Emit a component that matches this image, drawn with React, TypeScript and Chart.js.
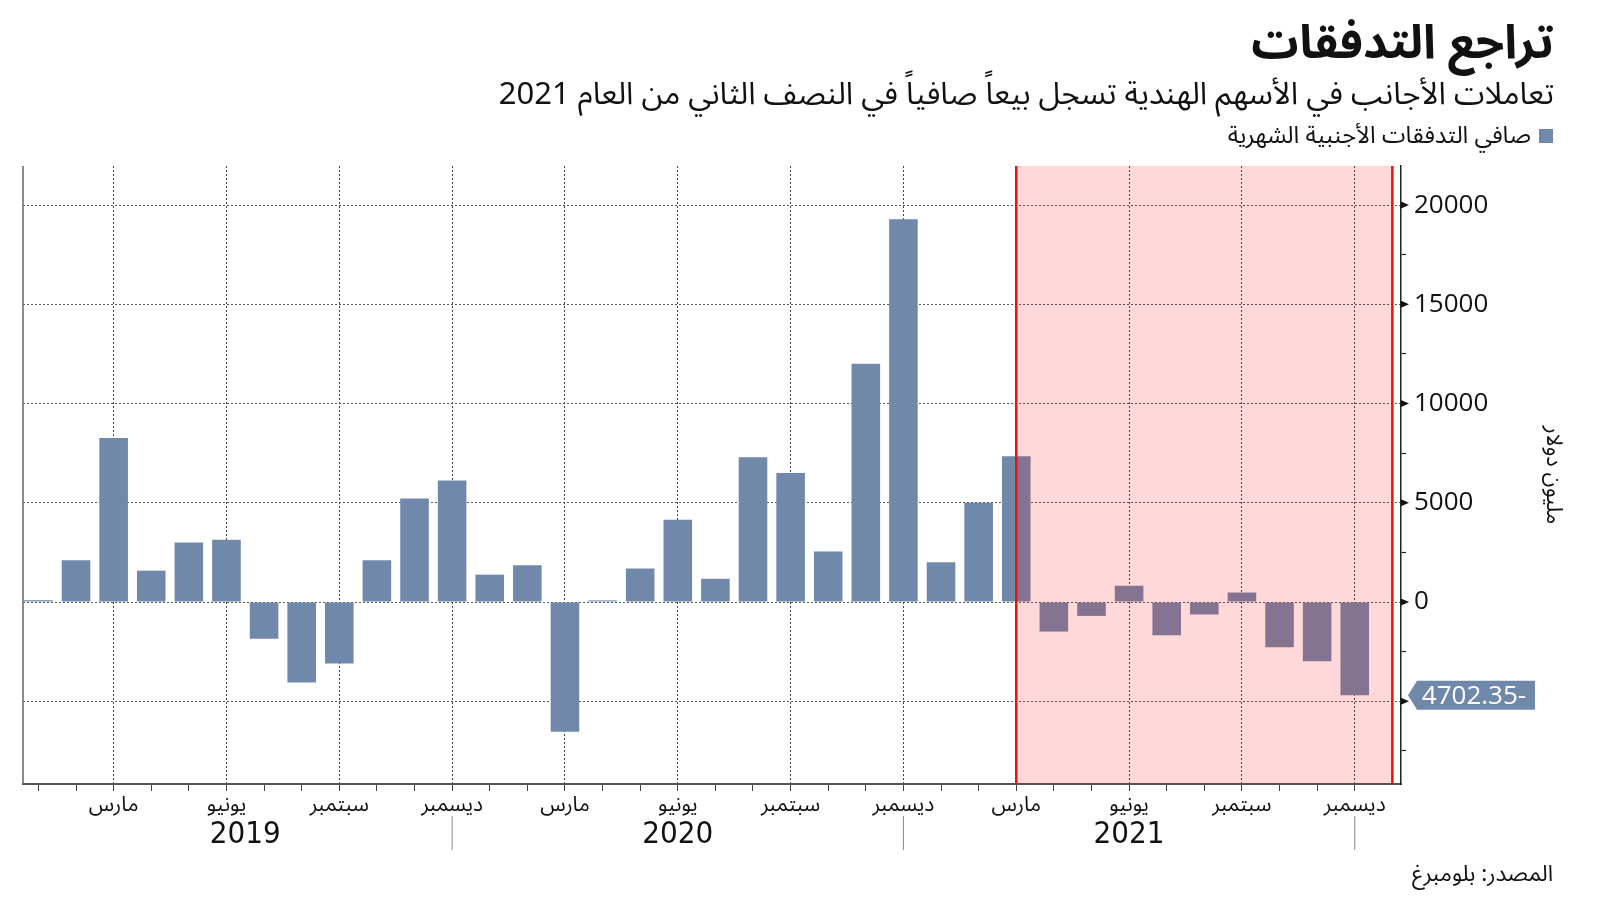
import React, { useEffect, useRef } from 'react';
import { Chart, registerables } from 'chart.js';

Chart.register(...registerables);

// ---------- data ----------
const months = [
  '2019-01', '2019-02', '2019-03', '2019-04', '2019-05', '2019-06',
  '2019-07', '2019-08', '2019-09', '2019-10', '2019-11', '2019-12',
  '2020-01', '2020-02', '2020-03', '2020-04', '2020-05', '2020-06',
  '2020-07', '2020-08', '2020-09', '2020-10', '2020-11', '2020-12',
  '2021-01', '2021-02', '2021-03', '2021-04', '2021-05', '2021-06',
  '2021-07', '2021-08', '2021-09', '2021-10', '2021-11', '2021-12',
];

const netFlows = [
  90, 2100, 8270, 1580, 3000, 3140, -1850, -4060, -3100, 2100, 5220, 6120,
  1380, 1850, -6540, 80, 1690, 4150, 1170, 7290, 6500, 2540, 12000, 19290,
  2000, 5000, 7350, -1490, -700, 820, -1680, -630, 480, -2280, -2980, -4702.35,
];

const quarterMonthNames: Record<string, string> = {
  '03': 'مارس',
  '06': 'يونيو',
  '09': 'سبتمبر',
  '12': 'ديسمبر',
};

const yearLabels = ['2019', '2020', '2021'];

const highlightFrom = '2021-03';
const highlightTo = '2022-01';

const titleText = 'تراجع التدفقات';
const subtitleText = 'تعاملات الأجانب في الأسهم الهندية تسجل بيعاً صافياً في النصف الثاني من العام 2021';
const seriesLabel = 'صافي التدفقات الأجنبية الشهرية';
const yAxisTitle = 'مليون دولار';
const sourceText = 'المصدر: بلومبرغ';

// ---------- styling ----------
const ARABIC = "'Noto Sans Arabic', 'Noto Kufi Arabic', 'DejaVu Sans', sans-serif";
const NUM = "'Open Sans', 'DejaVu Sans', sans-serif";
const NARROW = "'Liberation Sans Narrow', 'DejaVu Sans Condensed', 'Open Sans', sans-serif";
const BAR = '#7089ab';
const Y_MIN = -9170;
const Y_MAX = 21970;
const Y_STEP = 2500;
const Y_MAJOR = 5000;

function monthPos(s: string): number {
  const [y0, m0] = months[0].split('-').map(Number);
  const [y, m] = s.split('-').map(Number);
  return (y - y0) * 12 + (m - m0);
}

const decorPlugin = {
  id: 'decor',
  afterDatasetsDraw(chart: any) {
    const { ctx, chartArea, scales } = chart;
    const x = scales.x;
    const xa = x.getPixelForValue(monthPos(highlightFrom));
    const xb = x.getPixelForValue(monthPos(highlightTo));
    ctx.save();
    ctx.fillStyle = 'rgba(255, 0, 0, 0.15)';
    ctx.fillRect(xa, chartArea.top, xb - xa, chartArea.bottom - chartArea.top);
    ctx.strokeStyle = '#e3121b';
    ctx.lineWidth = 2.5;
    [xa, xb].forEach((px) => {
      ctx.beginPath();
      ctx.moveTo(px, chartArea.top);
      ctx.lineTo(px, chartArea.bottom);
      ctx.stroke();
    });
    ctx.restore();
  },
  afterDraw(chart: any) {
    const { ctx, chartArea, scales } = chart;
    const x = scales.x;
    const y = scales.y;
    ctx.save();
    // left frame line
    ctx.strokeStyle = '#666';
    ctx.lineWidth = 1.5;
    ctx.beginPath();
    ctx.moveTo(chartArea.left, chartArea.top);
    ctx.lineTo(chartArea.left, chartArea.bottom);
    ctx.stroke();

    // triangle markers on major y ticks
    ctx.fillStyle = '#111';
    y.ticks.forEach((t: any) => {
      if (t.value % Y_MAJOR !== 0) return;
      const py = y.getPixelForValue(t.value);
      ctx.beginPath();
      ctx.moveTo(y.left, py - 3.5);
      ctx.lineTo(y.left + 8, py);
      ctx.lineTo(y.left, py + 3.5);
      ctx.closePath();
      ctx.fill();
    });

    // last value annotation
    const last = netFlows[netFlows.length - 1];
    const py = y.getPixelForValue(last);
    const tip = y.left + 7;
    const bx0 = tip + 9;
    const bx1 = bx0 + 118;
    const h = 29;
    ctx.fillStyle = BAR;
    ctx.beginPath();
    ctx.moveTo(tip, py);
    ctx.lineTo(bx0, py - h / 2);
    ctx.lineTo(bx1, py - h / 2);
    ctx.lineTo(bx1, py + h / 2);
    ctx.lineTo(bx0, py + h / 2);
    ctx.closePath();
    ctx.fill();
    ctx.fillStyle = '#fff';
    ctx.font = `26px ${NUM}`;
    ctx.textAlign = 'center';
    ctx.textBaseline = 'middle';
    (ctx as any).direction = 'rtl';
    ctx.fillText(String(last), (bx0 + bx1) / 2 - 2, py + 1);
    (ctx as any).direction = 'ltr';

    // year separators and labels
    const decIdx = yearLabels.map((yr) => monthPos(`${yr}-12`));
    ctx.strokeStyle = '#888';
    ctx.lineWidth = 1;
    const sepTop = chartArea.bottom + 32;
    const sepBot = chartArea.bottom + 66;
    decIdx.forEach((d) => {
      const px = x.getPixelForValue(d);
      ctx.beginPath();
      ctx.moveTo(px, sepTop);
      ctx.lineTo(px, sepBot);
      ctx.stroke();
    });
    ctx.fillStyle = '#111';
    ctx.font = `31px ${NARROW}`;
    ctx.textAlign = 'center';
    ctx.textBaseline = 'middle';
    yearLabels.forEach((yr, i) => {
      const start = i === 0 ? monthPos(months[0]) : decIdx[i - 1];
      const center = (start + decIdx[i]) / 2;
      ctx.fillText(yr, x.getPixelForValue(center), chartArea.bottom + 51);
    });
    ctx.restore();
  },
};

function isQuarterTick(v: number): boolean {
  const i = Math.round(v);
  if (i < 0 || i >= months.length || Math.abs(v - i) > 1e-6) return false;
  return Boolean(quarterMonthNames[months[i].slice(5)]);
}

export default function App() {
  const canvasRef = useRef<HTMLCanvasElement | null>(null);

  useEffect(() => {
    document.body.style.margin = '0';
    const canvas = canvasRef.current;
    if (!canvas) return;
    const chart = new Chart(canvas, {
      type: 'bar',
      data: {
        datasets: [
          {
            label: seriesLabel,
            data: netFlows.map((v, i) => ({ x: monthPos(months[i]), y: v })),
            backgroundColor: BAR,
            borderWidth: 0,
            categoryPercentage: 1,
            barPercentage: 0.76,
          },
        ],
      },
      options: {
        animation: false,
        responsive: false,
        maintainAspectRatio: false,
        layout: { padding: { left: 23, top: 166, right: 36, bottom: 57 } },
        plugins: {
          legend: { display: false },
          title: { display: false },
          tooltip: { enabled: false },
        },
        scales: {
          x: {
            type: 'linear',
            min: -0.41,
            max: 36.23,
            offset: false,
            afterBuildTicks: (scale: any) => {
              scale.ticks = months.map((m) => ({ value: monthPos(m) }));
            },
            afterFit: (scale: any) => {
              scale.height = 60;
            },
            ticks: {
              autoSkip: false,
              maxRotation: 0,
              minRotation: 0,
              padding: 4,
              color: '#111',
              font: { family: ARABIC, size: 21 },
              callback: (value: any) => {
                const v = Number(value);
                if (!isQuarterTick(v)) return '';
                return quarterMonthNames[months[Math.round(v)].slice(5)];
              },
            },
            grid: {
              display: true,
              offset: false,
              drawOnChartArea: true,
              drawTicks: true,
              tickLength: 7,
              lineWidth: 1,
              tickWidth: 1,
              tickColor: '#444',
              tickBorderDash: [],
              color: (ctx: any) => (ctx.tick && isQuarterTick(ctx.tick.value) ? '#444' : 'transparent'),
            },
            border: { display: true, color: '#555', width: 2, dash: [2, 2] },
          },
          y: {
            position: 'right',
            min: Y_MIN,
            max: Y_MAX,
            afterBuildTicks: (scale: any) => {
              const ticks: { value: number }[] = [];
              for (let v = Math.ceil(Y_MIN / Y_STEP) * Y_STEP; v <= Y_MAX; v += Y_STEP) ticks.push({ value: v });
              scale.ticks = ticks;
            },
            afterFit: (scale: any) => {
              scale.width = 163;
            },
            ticks: {
              autoSkip: false,
              padding: 8,
              color: '#111',
              font: { family: NUM, size: 26 },
              callback: (value: any) => {
                const v = Number(value);
                if (v % Y_MAJOR !== 0 || v === -Y_MAJOR) return '';
                return String(v);
              },
            },
            grid: {
              drawOnChartArea: true,
              drawTicks: true,
              tickLength: 5,
              lineWidth: 1,
              tickWidth: 1.2,
              tickBorderDash: [],
              tickColor: (ctx: any) => (ctx.tick && ctx.tick.value % Y_MAJOR === 0 ? 'transparent' : '#222'),
              color: (ctx: any) => (ctx.tick && ctx.tick.value % Y_MAJOR === 0 ? '#555' : 'transparent'),
            },
            border: { display: true, color: '#222', width: 1.5, dash: [2, 2] },
            title: {
              display: true,
              text: yAxisTitle,
              color: '#111',
              font: { family: ARABIC, size: 22 },
              padding: { top: 0, bottom: 0 },
            },
          },
        },
      },
      plugins: [decorPlugin],
    } as any);
    return () => chart.destroy();
  }, []);

  const textBase: React.CSSProperties = {
    position: 'absolute',
    direction: 'rtl',
    whiteSpace: 'nowrap',
    fontFamily: ARABIC,
    color: '#111',
    margin: 0,
  };

  return (
    <div style={{ position: 'relative', width: 1600, height: 901, background: '#fff', overflow: 'hidden' }}>
      <canvas ref={canvasRef} width={1600} height={901} style={{ position: 'absolute', left: 0, top: 0, display: 'block' }} />
      <div style={{ ...textBase, right: 46, top: 14, fontSize: 47, lineHeight: '58px', fontWeight: 700 }}>{titleText}</div>
      <div style={{ ...textBase, right: 46, top: 73, fontSize: 31, lineHeight: '42px' }}>{subtitleText}</div>
      <div style={{ ...textBase, right: 47, top: 121, fontSize: 23.8, lineHeight: '30px', display: 'flex', alignItems: 'center', gap: 8 }}>
        <span style={{ display: 'inline-block', width: 14, height: 14, background: BAR }} />
        <span>{seriesLabel}</span>
      </div>
      <div style={{ ...textBase, right: 47, top: 859, fontSize: 22.5, lineHeight: '30px' }}>{sourceText}</div>
    </div>
  );
}
